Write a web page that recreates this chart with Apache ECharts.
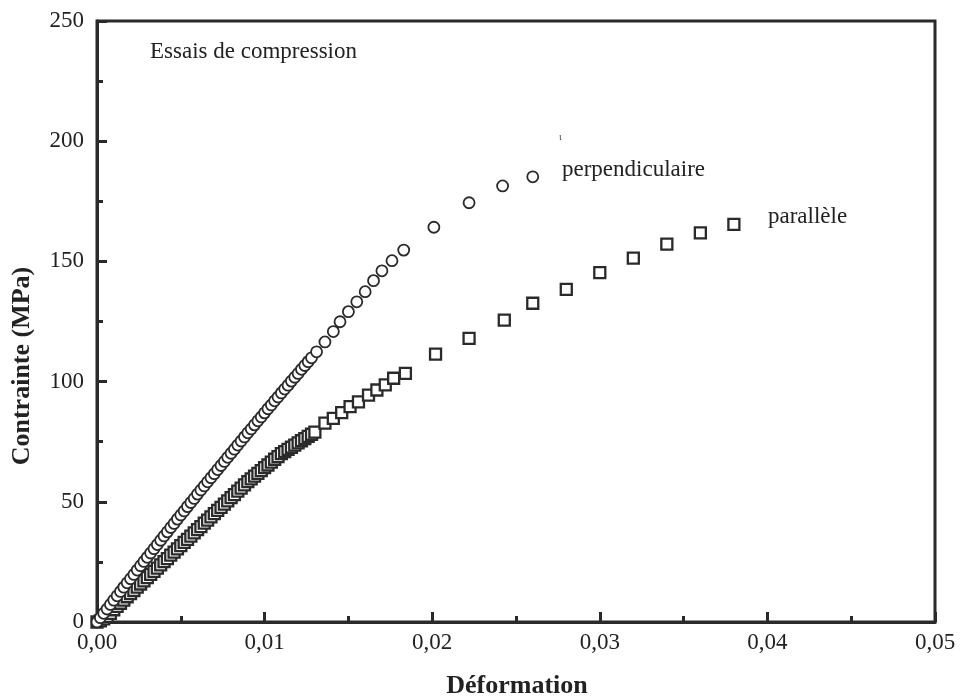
<!DOCTYPE html>
<html>
<head>
<meta charset="utf-8">
<script src="https://cdn.jsdelivr.net/npm/echarts@6/dist/echarts.min.js"></script>
<style>
html,body{margin:0;padding:0;background:#fff;}
#chart{width:962px;height:696px;}
</style>
</head>
<body>
<div id="chart"></div>
<script>
// Déformation / Contrainte (MPa) — perpendiculaire (circles)
var perpStrain = [0,0.0002,0.0004,0.0006,0.0008,0.0010,0.0012,0.0014,0.0016,0.0018,0.0020,0.0022,0.0024,0.0026,0.0028,0.0030,0.0032,0.0034,0.0036,0.0038,0.0040,0.0042,0.0044,0.0046,0.0048,0.0050,0.0052,0.0054,0.0056,0.0058,0.0060,0.0062,0.0064,0.0066,0.0068,0.0070,0.0072,0.0074,0.0076,0.0078,0.0080,0.0082,0.0084,0.0086,0.0088,0.0090,0.0092,0.0094,0.0096,0.0098,0.0100,0.0102,0.0104,0.0106,0.0108,0.0110,0.0112,0.0114,0.0116,0.0118,0.0120,0.0122,0.0124,0.0126,0.0128,
  0.0131,0.0136,0.0141,0.0145,0.0150,0.0155,0.0160,0.0165,0.0170,0.0176,0.0183,0.0201,0.0222,0.0242,0.0260];
var perpStress = [0,1.8,3.6,5.4,7.3,9.1,10.9,12.7,14.5,16.3,18.0,19.8,21.6,23.4,25.2,26.9,28.7,30.5,32.2,34.0,35.8,37.5,39.3,41.0,42.8,44.5,46.2,48.0,49.7,51.4,53.2,54.9,56.6,58.3,60.0,61.7,63.4,65.1,66.8,68.5,70.2,71.9,73.6,75.3,77.0,78.7,80.3,82.0,83.7,85.3,87.0,88.7,90.3,92.0,93.6,95.3,96.9,98.5,100.2,101.8,103.4,105.1,106.7,108.3,109.9,
  112.4,116.5,120.8,124.9,129.1,133.2,137.4,142.0,146.1,150.3,154.7,164.2,174.4,181.4,185.2];
// parallèle (squares)
var paraStrain = [0,0.0002,0.0004,0.0006,0.0008,0.0010,0.0012,0.0014,0.0016,0.0018,0.0020,0.0022,0.0024,0.0026,0.0028,0.0030,0.0032,0.0034,0.0036,0.0038,0.0040,0.0042,0.0044,0.0046,0.0048,0.0050,0.0052,0.0054,0.0056,0.0058,0.0060,0.0062,0.0064,0.0066,0.0068,0.0070,0.0072,0.0074,0.0076,0.0078,0.0080,0.0082,0.0084,0.0086,0.0088,0.0090,0.0092,0.0094,0.0096,0.0098,0.0100,0.0102,0.0104,0.0106,0.0108,0.0110,0.0112,0.0114,0.0116,0.0118,0.0120,0.0122,0.0124,0.0126,0.0128,0.0130,
  0.0136,0.0141,0.0146,0.0151,0.0156,0.0162,0.0167,0.0172,0.0177,0.0184,0.0202,0.0222,0.0243,0.0260,0.0280,0.0300,0.0320,0.0340,0.0360,0.0380];
var paraStress = [0,0.5,1.3,2.3,3.6,5.1,6.5,7.8,9.1,10.5,11.8,13.1,14.5,15.8,17.1,18.5,19.8,21.1,22.4,23.8,25.1,26.4,27.8,29.1,30.4,31.8,33.1,34.4,35.7,37.1,38.4,39.7,41.1,42.4,43.7,45.1,46.4,47.7,49.0,50.4,51.7,53.0,54.4,55.7,57.0,58.4,59.5,60.7,61.8,63.0,64.2,65.3,66.5,67.7,68.8,70.0,70.9,71.8,72.7,73.6,74.5,75.4,76.3,77.2,78.1,79.0,
  82.7,84.7,87.1,89.6,91.6,94.4,96.5,98.6,101.4,103.4,111.4,118.0,125.6,132.6,138.4,145.3,151.4,157.2,161.9,165.4];

var xTicks = [0, 0.01, 0.02, 0.03, 0.04, 0.05];
var yTicks = [0, 50, 100, 150, 200, 250];
var xTitle = 'Déformation';
var yTitle = 'Contrainte (MPa)';
var labelTitle = 'Essais de compression';
var labelPerp = 'perpendiculaire';
var labelPara = 'parallèle';

function pairs(xs, ys){ var o=[]; for(var i=0;i<xs.length;i++) o.push([xs[i], ys[i]]); return o; }

var FONT = '"Liberation Serif", "Times New Roman", serif';
var INK = '#2a2a2a';

var chart = echarts.init(document.getElementById('chart'), null, {renderer:'canvas'});
chart.setOption({
  animation: false,
  backgroundColor: '#fff',
  grid: {left: 97, right: 27, top: 21, bottom: 74, show: true, borderColor: INK, borderWidth: 3, backgroundColor: 'transparent'},
  xAxis: {
    type: 'value', min: xTicks[0], max: xTicks[xTicks.length-1], interval: 0.01,
    axisLine: {show: true, lineStyle: {color: INK, width: 3}},
    axisTick: {show: true, inside: true, length: 10, lineStyle: {color: INK, width: 3}},
    minorTick: {show: true, splitNumber: 2, length: 6, lineStyle: {color: INK, width: 3}},
    splitLine: {show: false},
    axisLabel: {fontFamily: FONT, fontSize: 23, color: '#222', margin: 9,
      formatter: function(v){ return v.toFixed(2).replace('.', ','); }}
  },
  yAxis: {
    type: 'value', min: yTicks[0], max: yTicks[yTicks.length-1], interval: 50,
    axisLine: {show: true, lineStyle: {color: INK, width: 3}},
    axisTick: {show: true, inside: true, length: 10, lineStyle: {color: INK, width: 3}},
    minorTick: {show: true, splitNumber: 2, length: 6, lineStyle: {color: INK, width: 3}},
    splitLine: {show: false},
    axisLabel: {fontFamily: FONT, fontSize: 23, color: '#222', margin: 13}
  },
  series: [
    {
      name: labelPara, type: 'scatter', symbol: 'rect', symbolSize: 11,
      data: pairs(paraStrain, paraStress),
      itemStyle: {color: '#fff', borderColor: INK, borderWidth: 2.3, opacity: 1},
      emphasis: {disabled: true}, z: 3
    },
    {
      name: labelPerp, type: 'scatter', symbol: 'circle', symbolSize: 11,
      data: pairs(perpStrain, perpStress),
      itemStyle: {color: '#fff', borderColor: INK, borderWidth: 1.8, opacity: 1},
      emphasis: {disabled: true}, z: 4
    }
  ],
  graphic: [
    {type: 'text', x: 517, y: 686, style: {text: xTitle, fontFamily: FONT, fontWeight: 'bold', fontSize: 26, fill: '#222', align: 'center', verticalAlign: 'middle'}},
    {type: 'text', x: 22, y: 366, rotation: Math.PI/2, style: {text: yTitle, fontFamily: FONT, fontWeight: 'bold', fontSize: 26, fill: '#222', align: 'center', verticalAlign: 'middle'}},
    {type: 'text', x: 150, y: 52, style: {text: labelTitle, fontFamily: FONT, fontSize: 23, fill: '#222', verticalAlign: 'middle'}},
    {type: 'text', x: 562, y: 170, style: {text: labelPerp, fontFamily: FONT, fontSize: 23, fill: '#222', verticalAlign: 'middle'}},
    {type: 'text', x: 768, y: 217, style: {text: labelPara, fontFamily: FONT, fontSize: 23, fill: '#222', verticalAlign: 'middle'}},
    {type: 'text', x: 559, y: 137, style: {text: 'ι', fontFamily: FONT, fontSize: 10, fill: '#444', verticalAlign: 'middle'}}
  ]
});
</script>
</body>
</html>
